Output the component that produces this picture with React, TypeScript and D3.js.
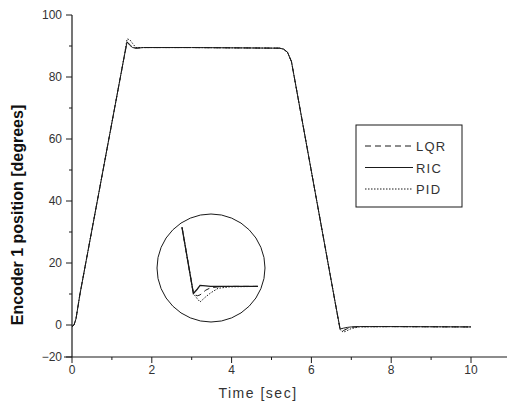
import React from "react";
import * as d3 from "d3";

// shared time base (sec)
const time = [0, 0.05, 0.1, 0.15, 0.2, 1.3, 1.38, 1.45, 1.52, 1.6, 1.8, 3.0, 5.2, 5.3, 5.4, 5.5, 6.6, 6.72, 6.8, 6.9, 7.0, 7.2, 8, 10];
const ric = [-1, 0, 2, 6, 10, 86, 91.3, 90.2, 89.5, 89.3, 89.5, 89.5, 89.3, 89, 88, 85, 7, -2.5, -2, -1.5, -1.2, -1, -1, -1.2];
const lqr = [-1, 0, 2, 6, 10, 86, 91.3, 90.5, 89.6, 89.3, 89.5, 89.5, 89.3, 89, 88, 85, 7, -3, -3.5, -2.3, -1.4, -1, -1, -1.2];
const pid = [-1, 0, 2, 6, 10, 86, 92.3, 92.0, 90.8, 89.5, 89.5, 89.5, 89.3, 89, 88, 85, 7, -3, -4.5, -3.5, -2.2, -1.2, -1, -1.2];

// magnified view inside the circle
const insetTime = [6.6, 6.72, 6.76, 6.79, 6.85, 6.9, 6.98, 7.1, 7.4];
const insetRic = [11.5, -2.5, -1.6, -0.8, -0.9, -1, -1, -1, -1];
const insetLqr = [11.5, -2.5, -3.0, -2.8, -1.8, -1.3, -1.1, -1, -1];
const insetPid = [11.5, -2.5, -3.6, -4.3, -3.2, -2.4, -1.4, -1.1, -1];

const seriesNames = ["LQR", "RIC", "PID"];
const yTicks = [-20, 0, 20, 40, 60, 80, 100];
const yMinor = [10, 30, 50, 70, 90];
const xTicks = [0, 2, 4, 6, 8, 10];
const xMinor = [1, 3, 5, 7, 9];

const dashFor: Record<string, string | undefined> = {
  LQR: "6,4",
  RIC: undefined,
  PID: "1.5,1.5",
};

export default function App() {
  const x = d3.scaleLinear().domain([0, 10]).range([72, 471]);
  // axis is broken between 0 and -20 in the original figure
  const y = d3.scaleLinear().domain([-20, 0, 100]).range([357, 325, 15]);

  const cx = 211, cy = 268, r = 54;
  const ix = d3.scaleLinear().domain([6.6, 7.4]).range([182, 258]);
  const iy = d3.scaleLinear().domain([-6, 12]).range([310, 225]);

  const line = d3.line<number>().x((_, i) => x(time[i])).y((d) => y(d));
  const iline = d3.line<number>().x((_, i) => ix(insetTime[i])).y((d) => iy(d));

  const main: Record<string, number[]> = { LQR: lqr, RIC: ric, PID: pid };
  const inset: Record<string, number[]> = { LQR: insetLqr, RIC: insetRic, PID: insetPid };

  const font = "'Liberation Sans', Arial, sans-serif";
  const ink = "#1a1a1a";

  return (
    <svg width={507} height={410} style={{ position: "absolute", left: 0, top: 0, background: "#fff" }} fontFamily={font}>
      <defs>
        <clipPath id="circ">
          <circle cx={cx} cy={cy} r={r - 1} />
        </clipPath>
      </defs>

      {/* axes */}
      <line x1={72} x2={72} y1={15} y2={357} stroke={ink} strokeWidth={1.2} />
      <line x1={64} x2={507} y1={357} y2={357} stroke={ink} strokeWidth={1.2} />
      {yTicks.map((t) => (
        <g key={"y" + t}>
          <line x1={66} x2={72} y1={y(t)} y2={y(t)} stroke={ink} />
          <text x={62} y={y(t) + 4} textAnchor="end" fontSize={12} fill="#333">
            {t < 0 ? "\u2212" + Math.abs(t) : t}
          </text>
        </g>
      ))}
      {yMinor.map((t) => (
        <line key={"ym" + t} x1={69} x2={72} y1={y(t)} y2={y(t)} stroke={ink} />
      ))}
      {xTicks.map((t) => (
        <g key={"x" + t}>
          <line x1={x(t)} x2={x(t)} y1={357} y2={363} stroke={ink} />
          <text x={x(t)} y={374} textAnchor="middle" fontSize={12} fill="#333">
            {t}
          </text>
        </g>
      ))}
      {xMinor.map((t) => (
        <line key={"xm" + t} x1={x(t)} x2={x(t)} y1={357} y2={360} stroke={ink} />
      ))}

      <text x={258} y={398} textAnchor="middle" fontSize={14} letterSpacing={1.5} fill="#333">
        Time [sec]
      </text>
      <text
        transform="translate(23,215) rotate(-90)"
        textAnchor="middle"
        fontSize={16}
        fontWeight="bold"
        fill="#111"
      >
        Encoder 1 position [degrees]
      </text>

      {/* series */}
      {seriesNames.map((s) => (
        <path
          key={s}
          d={line(main[s]) || ""}
          fill="none"
          stroke={ink}
          strokeWidth={1}
          strokeDasharray={dashFor[s]}
        />
      ))}

      {/* inset magnifier */}
      <circle cx={cx} cy={cy} r={r} fill="#fff" stroke={ink} strokeWidth={1} />
      <g clipPath="url(#circ)">
        {seriesNames.map((s) => (
          <path
            key={"i" + s}
            d={iline(inset[s]) || ""}
            fill="none"
            stroke={ink}
            strokeWidth={s === "RIC" ? 1.3 : 1}
            strokeDasharray={dashFor[s]}
          />
        ))}
      </g>

      {/* legend */}
      <rect x={356} y={125} width={106} height={82} fill="#fff" stroke={ink} strokeWidth={1} />
      {seriesNames.map((s, i) => {
        const ly = 146 + i * 21.5;
        return (
          <g key={"l" + s}>
            <line x1={365} x2={413} y1={ly} y2={ly} stroke={ink} strokeDasharray={dashFor[s]} />
            <text x={416} y={ly + 5} fontSize={13} letterSpacing={1.2} fill="#333">
              {s}
            </text>
          </g>
        );
      })}
    </svg>
  );
}
